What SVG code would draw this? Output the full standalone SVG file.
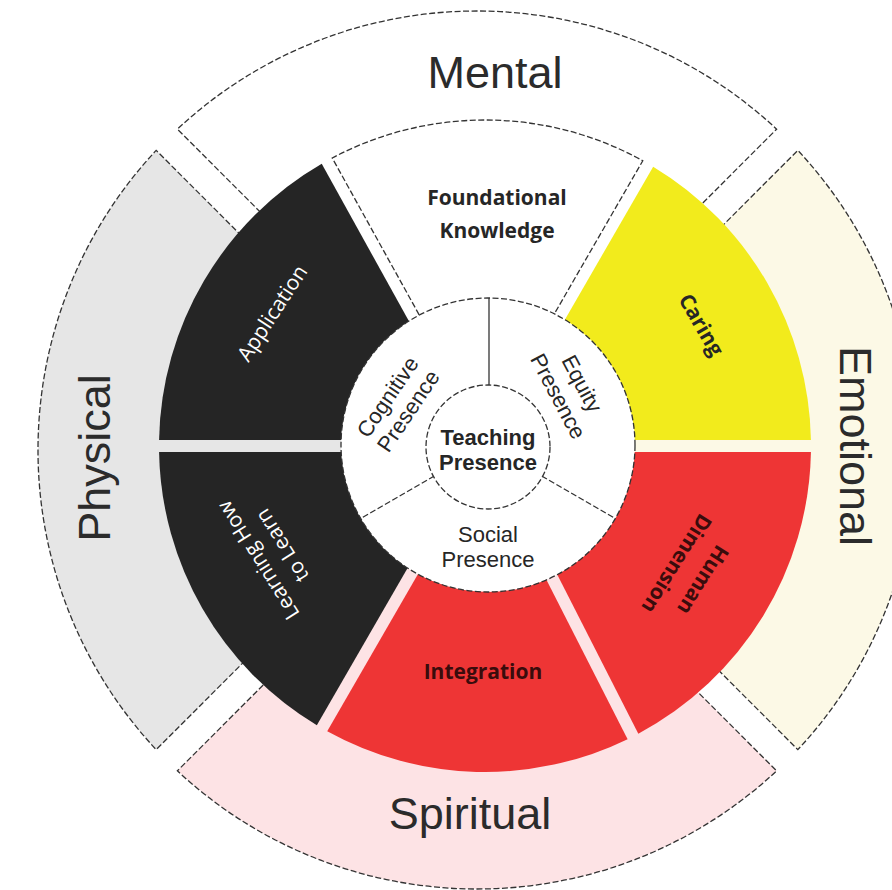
<svg xmlns="http://www.w3.org/2000/svg" width="892" height="890" viewBox="0 0 892 890">
  <style>
    .dash { stroke: #333; stroke-width: 1.3; stroke-dasharray: 6 2.5; }
    .outer-label { font-family: "Liberation Sans", Arial, sans-serif; font-size: 45px; fill: #2b2b2b; text-anchor: middle; }
    .lbl { font-family: "Open Sans", "Liberation Sans", sans-serif; text-anchor: middle; }
    .bold { font-weight: 700; font-size: 21px; }
    .white { fill: #ffffff; font-size: 21px; font-weight: 400; }
    .dark-on-red { fill: #3a0c0c; }
    .inner { font-family: "Liberation Sans", Arial, sans-serif; font-size: 22px; text-anchor: middle; fill: #262626; }
  </style>
  <rect width="892" height="890" fill="#ffffff"/>

  <!-- outer ring: four quadrant wedges -->
  <g id="mental">
    <path class="dash" d="M477,428.79 L177.37,129.15 A439,439 0 0 1 776.63,129.15 Z" fill="#ffffff"/>
  </g>
  <g id="emotional">
    <path class="dash" d="M498.21,450 L797.85,150.37 A439,439 0 0 1 797.85,749.63 Z" fill="#fcf9e6"/>
  </g>
  <g id="spiritual">
    <path class="dash" d="M477,471.21 L776.63,770.85 A439,439 0 0 1 177.37,770.85 Z" fill="#fde3e5"/>
  </g>
  <g id="physical">
    <path class="dash" d="M455.79,450 L156.15,749.63 A439,439 0 0 1 156.15,150.37 Z" fill="#e6e6e6"/>
  </g>

  <!-- middle ring: six segments -->
  <g id="foundational-knowledge">
    <path class="dash" d="M485.1,433.8 L332.23,158.02 A326,326 0 0 1 642.77,160.73 Z" fill="#ffffff"/>
  </g>
  <g id="caring">
    <path d="M495.39,440 L653.17,166.73 A326,326 0 0 1 810.94,440 Z" fill="#f2eb1c"/>
  </g>
  <g id="human-dimension">
    <path d="M494.79,452 L810.94,452 A326,326 0 0 1 638.33,733.69 Z" fill="#ee3535"/>
  </g>
  <g id="integration">
    <path d="M484.67,458.58 L627.63,739.13 A326,326 0 0 1 327.23,731.27 Z" fill="#ee3535"/>
  </g>
  <g id="learning-how-to-learn">
    <path d="M474.61,452 L316.83,725.27 A326,326 0 0 1 159.06,452 Z" fill="#252525"/>
  </g>
  <g id="application">
    <path d="M474.82,440 L159.06,440 A326,326 0 0 1 321.73,163.84 Z" fill="#252525"/>
  </g>

  <!-- inner presences circle -->
  <g id="presences">
    <circle class="dash" cx="488" cy="445" r="147" fill="#ffffff"/>
  </g>
  <g id="dividers" stroke="#333" stroke-width="1.3" fill="none">
    <line x1="489" y1="298" x2="489" y2="385"/>
    <line x1="541.7" y1="476" x2="615.3" y2="518.5" stroke-dasharray="6 2.5"/>
    <line x1="434.3" y1="476" x2="360.7" y2="518.5" stroke-dasharray="6 2.5"/>
  </g>
  <g id="teaching-presence">
    <circle class="dash" cx="488" cy="447" r="62" fill="#ffffff"/>
  </g>

  <!-- outer labels -->
  <g id="outer-labels">
    <text class="outer-label" x="495" y="88">Mental</text>
    <text class="outer-label" x="470" y="829">Spiritual</text>
    <text class="outer-label" transform="translate(110,458) rotate(-90)">Physical</text>
    <text class="outer-label" transform="translate(840,446) rotate(90)">Emotional</text>
  </g>

  <!-- middle ring labels -->
  <g id="middle-labels">
    <text class="lbl bold" fill="#262626"><tspan x="497" y="205">Foundational</tspan><tspan x="497" y="238">Knowledge</tspan></text>
    <text class="lbl bold" fill="#262626" font-size="20" transform="translate(701,325) rotate(60)" y="7">Caring</text>
    <text class="lbl bold dark-on-red" transform="translate(690,572) rotate(122)"><tspan x="0" y="-8">Human</tspan><tspan x="0" y="23">Dimension</tspan></text>
    <text class="lbl bold dark-on-red" x="483" y="679">Integration</text>
    <text class="lbl white" transform="translate(270,553) rotate(-122)"><tspan x="0" y="-6.5">Learning How</tspan><tspan x="0" y="21.5">to Learn</tspan></text>
    <text class="lbl white" transform="translate(272,313) rotate(-57)" y="7.5">Application</text>
  </g>

  <!-- inner labels -->
  <g id="inner-labels">
    <text class="inner" transform="translate(398,404) rotate(-56)"><tspan x="0" y="-5">Cognitive</tspan><tspan x="0" y="20">Presence</tspan></text>
    <text class="inner" transform="translate(570,390) rotate(62)"><tspan x="0" y="-6">Equity</tspan><tspan x="0" y="21">Presence</tspan></text>
    <text class="inner"><tspan x="488" y="542">Social</tspan><tspan x="488" y="567">Presence</tspan></text>
    <text class="inner" font-weight="700" fill="#222"><tspan x="488" y="445">Teaching</tspan><tspan x="488" y="470">Presence</tspan></text>
  </g>
</svg>
